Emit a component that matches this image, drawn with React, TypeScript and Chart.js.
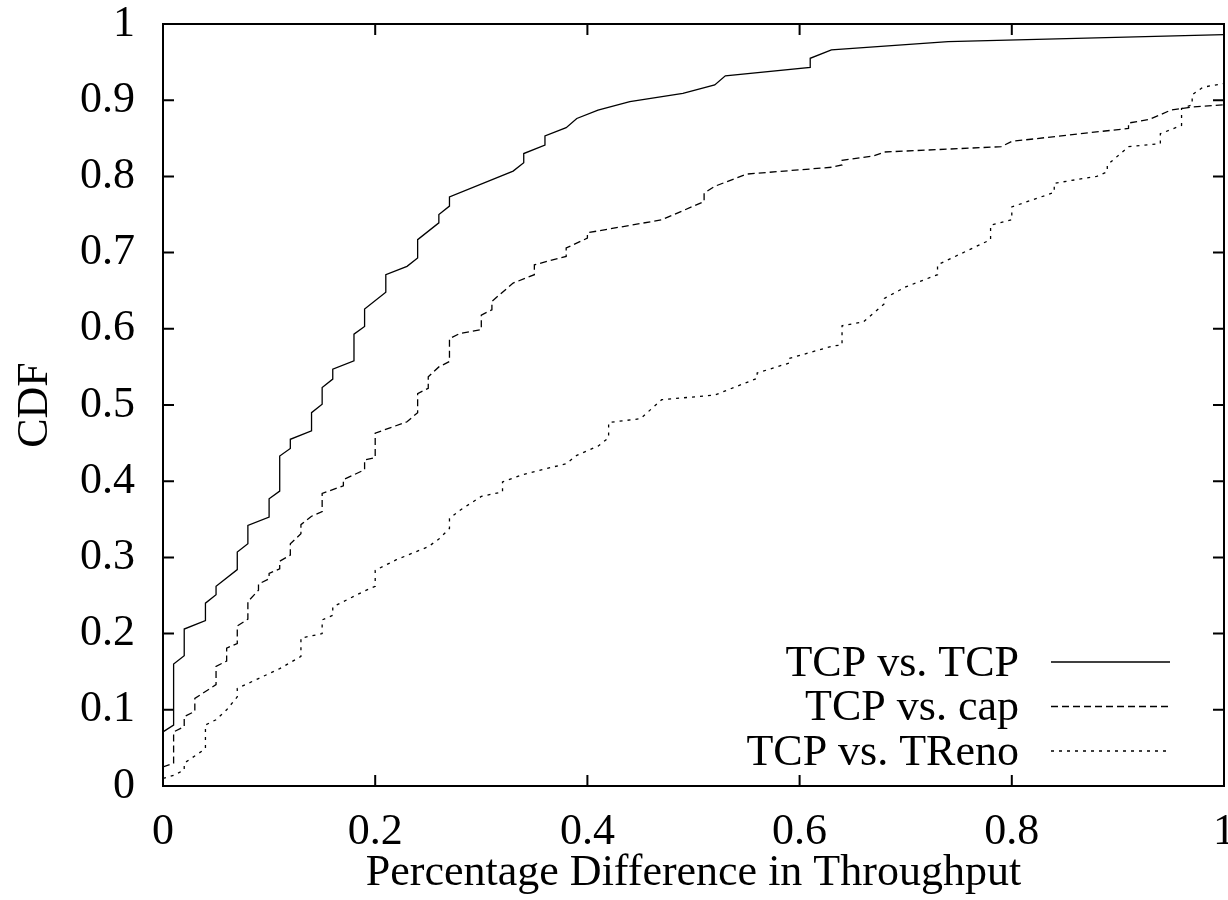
import React, { useEffect, useRef } from 'react';
import { Chart, registerables } from 'chart.js';

Chart.register(...registerables);

// ---- Data ----
const seriesLabels = ['TCP vs. TCP', 'TCP vs. cap', 'TCP vs. TReno'];

const tcpTcpX = [0, 0.01, 0.01, 0.02, 0.02, 0.04, 0.04, 0.05, 0.05, 0.07, 0.07, 0.08, 0.08, 0.10, 0.10, 0.11, 0.11, 0.12, 0.12, 0.14, 0.14, 0.15, 0.15, 0.16, 0.16, 0.18, 0.18, 0.19, 0.19, 0.21, 0.21, 0.23, 0.24, 0.24, 0.26, 0.26, 0.27, 0.27, 0.33, 0.34, 0.34, 0.36, 0.36, 0.38, 0.39, 0.41, 0.44, 0.49, 0.52, 0.53, 0.61, 0.61, 0.63, 0.74, 1.0];
const tcpTcpY = [0.071, 0.080, 0.160, 0.171, 0.206, 0.217, 0.240, 0.251, 0.262, 0.284, 0.307, 0.318, 0.342, 0.353, 0.377, 0.387, 0.433, 0.443, 0.455, 0.466, 0.490, 0.501, 0.523, 0.534, 0.547, 0.558, 0.593, 0.603, 0.626, 0.648, 0.671, 0.682, 0.693, 0.717, 0.739, 0.750, 0.761, 0.773, 0.807, 0.818, 0.830, 0.841, 0.853, 0.864, 0.876, 0.887, 0.898, 0.909, 0.920, 0.932, 0.943, 0.955, 0.966, 0.977, 0.986];

const tcpCapX = [0, 0.01, 0.01, 0.02, 0.02, 0.03, 0.03, 0.05, 0.05, 0.06, 0.06, 0.07, 0.07, 0.08, 0.08, 0.09, 0.09, 0.10, 0.10, 0.11, 0.11, 0.12, 0.12, 0.13, 0.13, 0.14, 0.15, 0.15, 0.17, 0.17, 0.19, 0.19, 0.20, 0.20, 0.23, 0.24, 0.24, 0.25, 0.25, 0.26, 0.27, 0.27, 0.28, 0.30, 0.30, 0.31, 0.31, 0.33, 0.35, 0.35, 0.38, 0.38, 0.40, 0.40, 0.47, 0.51, 0.51, 0.52, 0.55, 0.63, 0.64, 0.64, 0.67, 0.68, 0.79, 0.80, 0.91, 0.91, 0.93, 0.95, 0.97, 1.0];
const tcpCapY = [0.025, 0.030, 0.071, 0.078, 0.091, 0.098, 0.115, 0.133, 0.157, 0.164, 0.181, 0.187, 0.210, 0.219, 0.242, 0.257, 0.265, 0.272, 0.279, 0.285, 0.295, 0.303, 0.318, 0.331, 0.343, 0.354, 0.360, 0.384, 0.394, 0.402, 0.415, 0.428, 0.431, 0.463, 0.478, 0.490, 0.515, 0.522, 0.537, 0.550, 0.557, 0.587, 0.594, 0.599, 0.618, 0.625, 0.636, 0.660, 0.671, 0.684, 0.695, 0.706, 0.719, 0.726, 0.743, 0.767, 0.778, 0.787, 0.803, 0.812, 0.815, 0.821, 0.827, 0.832, 0.839, 0.846, 0.863, 0.870, 0.875, 0.887, 0.891, 0.894];

const tcpTrenoX = [0, 0.01, 0.02, 0.02, 0.04, 0.04, 0.05, 0.06, 0.07, 0.07, 0.09, 0.11, 0.13, 0.13, 0.15, 0.15, 0.16, 0.16, 0.19, 0.20, 0.20, 0.22, 0.25, 0.26, 0.27, 0.27, 0.28, 0.30, 0.32, 0.32, 0.34, 0.38, 0.39, 0.41, 0.42, 0.42, 0.45, 0.47, 0.52, 0.56, 0.56, 0.59, 0.59, 0.63, 0.64, 0.64, 0.66, 0.68, 0.68, 0.70, 0.73, 0.73, 0.78, 0.78, 0.80, 0.80, 0.84, 0.84, 0.88, 0.89, 0.89, 0.91, 0.94, 0.94, 0.96, 0.96, 0.97, 0.97, 0.98, 1.0];
const tcpTrenoY = [0.010, 0.014, 0.021, 0.030, 0.049, 0.080, 0.087, 0.100, 0.117, 0.128, 0.141, 0.154, 0.170, 0.194, 0.200, 0.218, 0.224, 0.235, 0.256, 0.262, 0.283, 0.297, 0.314, 0.324, 0.338, 0.351, 0.362, 0.380, 0.386, 0.399, 0.409, 0.423, 0.434, 0.446, 0.457, 0.477, 0.482, 0.507, 0.513, 0.535, 0.542, 0.555, 0.561, 0.577, 0.579, 0.604, 0.609, 0.633, 0.640, 0.655, 0.671, 0.684, 0.717, 0.736, 0.743, 0.760, 0.779, 0.791, 0.800, 0.806, 0.815, 0.839, 0.843, 0.856, 0.867, 0.889, 0.894, 0.907, 0.917, 0.922];

const xTicks = [0, 0.2, 0.4, 0.6, 0.8, 1];
const yTicks = [0, 0.1, 0.2, 0.3, 0.4, 0.5, 0.6, 0.7, 0.8, 0.9, 1];

const FONT_FAMILY = '"Liberation Serif", "Times New Roman", Times, serif';
const FONT_SIZE = 44;

const toPoints = (xs: number[], ys: number[]) => xs.map((x, i) => ({ x, y: ys[i] }));

const framePlugin = {
  id: 'gnuplotFrame',
  afterDatasetsDraw(chart: any) {
    const { ctx, chartArea, scales } = chart;
    const { left, right, top, bottom } = chartArea;
    const tl = 11;
    ctx.save();
    ctx.strokeStyle = '#000';
    ctx.lineWidth = 2;
    ctx.setLineDash([]);
    ctx.strokeRect(left, top, right - left, bottom - top);
    ctx.beginPath();
    xTicks.forEach((v) => {
      const px = scales.x.getPixelForValue(v);
      ctx.moveTo(px, bottom);
      ctx.lineTo(px, bottom - tl);
      ctx.moveTo(px, top);
      ctx.lineTo(px, top + tl);
    });
    yTicks.forEach((v) => {
      const py = scales.y.getPixelForValue(v);
      ctx.moveTo(left, py);
      ctx.lineTo(left + tl, py);
      ctx.moveTo(right, py);
      ctx.lineTo(right - tl, py);
    });
    ctx.stroke();

    // legend (inside plot, lower right)
    ctx.font = `${FONT_SIZE}px ${FONT_FAMILY}`;
    ctx.textAlign = 'right';
    ctx.textBaseline = 'middle';
    ctx.fillStyle = '#000';
    const textRight = right - 205;
    const lineStart = right - 173;
    const lineEnd = right - 54;
    const firstY = bottom - 124;
    const rowH = 44.5;
    chart.data.datasets.forEach((ds: any, i: number) => {
      const y = firstY + i * rowH;
      ctx.fillText(ds.label, textRight, y + 2);
      ctx.beginPath();
      ctx.strokeStyle = ds.borderColor;
      ctx.lineWidth = ds.borderWidth;
      ctx.setLineDash(ds.borderDash || []);
      ctx.moveTo(lineStart, y);
      ctx.lineTo(lineEnd, y);
      ctx.stroke();
    });
    ctx.restore();
  },
};

export default function App() {
  const ref = useRef<HTMLCanvasElement | null>(null);

  useEffect(() => {
    if (!ref.current) return;
    const font = { family: FONT_FAMILY, size: FONT_SIZE };
    const chart = new Chart(ref.current, {
      type: 'line',
      data: {
        datasets: [
          {
            label: seriesLabels[0],
            data: toPoints(tcpTcpX, tcpTcpY),
            borderColor: '#000',
            borderWidth: 1.3,
            borderDash: [],
            pointRadius: 0,
            tension: 0,
            fill: false,
          },
          {
            label: seriesLabels[1],
            data: toPoints(tcpCapX, tcpCapY),
            borderColor: '#000',
            borderWidth: 1.3,
            borderDash: [7, 4],
            pointRadius: 0,
            tension: 0,
            fill: false,
          },
          {
            label: seriesLabels[2],
            data: toPoints(tcpTrenoX, tcpTrenoY),
            borderColor: '#000',
            borderWidth: 1.3,
            borderDash: [3, 5],
            pointRadius: 0,
            tension: 0,
            fill: false,
          },
        ],
      },
      options: {
        animation: false,
        responsive: false,
        maintainAspectRatio: false,
        devicePixelRatio: 1,
        layout: { padding: { top: 24, right: 4, left: 0, bottom: 0 } },
        plugins: {
          legend: { display: false },
          tooltip: { enabled: false },
        },
        scales: {
          x: {
            type: 'linear',
            min: 0,
            max: 1,
            afterBuildTicks: (scale: any) => {
              scale.ticks = xTicks.map((v) => ({ value: v }));
            },
            ticks: {
              font,
              color: '#000',
              padding: 20,
              maxRotation: 0,
              autoSkip: false,
              callback: (v: any) => String(Math.round(Number(v) * 10) / 10),
            },
            grid: { display: false, drawTicks: false },
            border: { display: false },
            title: {
              display: true,
              text: 'Percentage Difference in Throughput',
              font,
              color: '#000',
              padding: { top: 0, bottom: 0 },
            },
            afterFit: (scale: any) => {
              scale.height = 114;
              scale.paddingLeft = 0;
              scale.paddingRight = 0;
            },
          },
          y: {
            type: 'linear',
            min: 0,
            max: 1,
            afterBuildTicks: (scale: any) => {
              scale.ticks = yTicks.map((v) => ({ value: v }));
            },
            ticks: {
              font,
              color: '#000',
              padding: 28,
              autoSkip: false,
              callback: (v: any) => String(Math.round(Number(v) * 10) / 10),
            },
            grid: { display: false, drawTicks: false },
            border: { display: false },
            title: {
              display: true,
              text: 'CDF',
              font,
              color: '#000',
              padding: { top: 9, bottom: 0 },
            },
            afterFit: (scale: any) => {
              scale.width = 163;
              scale.paddingTop = 0;
              scale.paddingBottom = 0;
            },
          },
        },
      },
      plugins: [framePlugin],
    });
    return () => chart.destroy();
  }, []);

  return (
    <div style={{ position: 'absolute', left: 0, top: 0, width: 1228, height: 900, background: '#fff' }}>
      <canvas ref={ref} width={1228} height={900} style={{ display: 'block' }} />
    </div>
  );
}
